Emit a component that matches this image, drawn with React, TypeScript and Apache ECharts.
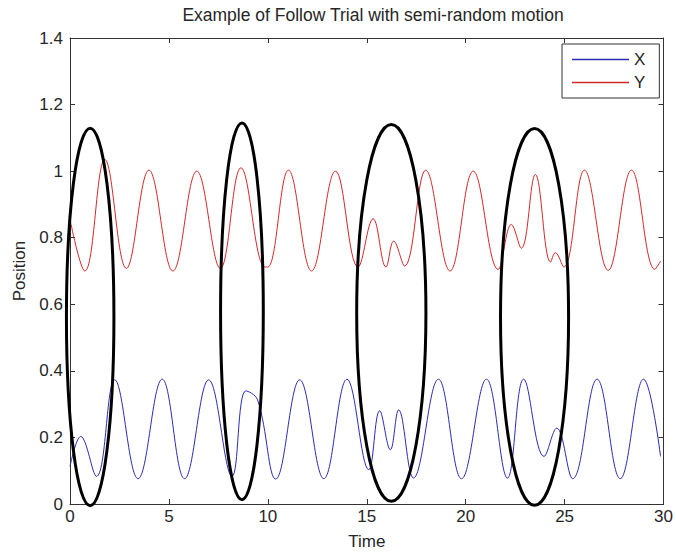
import React, { useEffect, useRef } from "react";
import * as echarts from "echarts";

const titleText = "Example of Follow Trial with semi-random motion";
const xTicks = { min: 0, max: 30, interval: 5 };
const yTicks = { min: 0, max: 1.4, interval: 0.2 };

// X position over time (blue)
const seriesX: [number, number][] = [
  [0, 0.113], [0.54, 0.203], [1.34, 0.083], [2.26, 0.373], [3.44, 0.076],
  [4.66, 0.375], [5.79, 0.076], [7.01, 0.373], [8.19, 0.083], [8.89, 0.34],
  [9.48, 0.313], [10.4, 0.075], [11.61, 0.373], [12.83, 0.076], [14.0, 0.375],
  [15.1, 0.103], [15.65, 0.28], [16.19, 0.163], [16.61, 0.283], [17.36, 0.078],
  [18.62, 0.375], [19.79, 0.076], [21.05, 0.375], [22.11, 0.078], [22.93, 0.375],
  [23.96, 0.143], [24.6, 0.228], [25.41, 0.076], [26.64, 0.375], [27.81, 0.076],
  [28.99, 0.375], [29.85, 0.143],
];

// Y position over time (red)
const seriesY: [number, number][] = [
  [0, 0.855], [0.75, 0.7], [1.76, 1.035], [2.85, 0.708], [3.99, 1.003],
  [5.2, 0.7], [6.41, 1.0], [7.6, 0.708], [8.64, 1.01], [9.85, 0.712],
  [10.0, 0.712], [11.04, 1.003], [12.21, 0.7], [13.42, 1.0], [14.56, 0.712],
  [15.32, 0.857], [15.97, 0.712], [16.36, 0.79], [16.91, 0.715], [17.98, 1.003],
  [19.21, 0.7], [20.38, 1.0], [21.64, 0.705], [22.31, 0.84], [22.81, 0.768],
  [23.52, 0.99], [24.29, 0.727], [24.53, 0.755], [24.96, 0.712], [26.0, 1.003],
  [27.2, 0.702], [28.38, 1.003], [29.56, 0.705], [29.85, 0.73],
];

// Annotation ellipses: [centerTime, centerPos, radiusTime, radiusPos]
const ellipses: [number, number, number, number][] = [
  [1.02, 0.562, 1.2, 0.567],
  [8.69, 0.579, 1.08, 0.566],
  [16.24, 0.574, 1.75, 0.566],
  [23.48, 0.562, 1.72, 0.566],
];

const FONT = "'Liberation Sans', Arial, sans-serif";
const TEXT = "#262626";
const AXIS = "#333333";

export default function App() {
  const ref = useRef<HTMLDivElement>(null);
  useEffect(() => {
    if (!ref.current) return;
    const chart = echarts.init(ref.current, null, { renderer: "svg" });
    const axisCommon = {
      axisLine: { show: true, onZero: false, lineStyle: { color: AXIS, width: 1 } },
      axisTick: { show: true, inside: true, length: 5, lineStyle: { color: AXIS } },
      splitLine: { show: false },
    };
    chart.setOption({
      animation: false,
      backgroundColor: "#ffffff",
      textStyle: { fontFamily: FONT },
      title: {
        text: titleText,
        left: 368,
        textAlign: "center",
        top: 1,
        textStyle: { fontSize: 17.5, fontWeight: "normal", color: TEXT, fontFamily: FONT },
      },
      grid: { left: 70, top: 38, width: 596, height: 466 },
      legend: {
        data: ["X", "Y"],
        orient: "vertical",
        left: 562,
        top: 44,
        padding: [7, 14, 7, 10],
        itemGap: 6,
        itemWidth: 57,
        itemHeight: 1.5,
        icon: "rect",
        borderColor: AXIS,
        borderWidth: 1,
        backgroundColor: "#ffffff",
        textStyle: { fontSize: 17, color: TEXT, fontFamily: FONT, lineHeight: 17 },
      },
      xAxis: [
        {
          type: "value",
          ...xTicks,
          position: "bottom",
          name: "Time",
          nameLocation: "middle",
          nameGap: 29,
          nameTextStyle: { fontSize: 17, color: TEXT, fontFamily: FONT },
          axisLabel: { fontSize: 17, color: TEXT, margin: 4, fontFamily: FONT },
          ...axisCommon,
        },
        {
          type: "value",
          ...xTicks,
          position: "top",
          axisLabel: { show: false },
          ...axisCommon,
        },
      ],
      yAxis: [
        {
          type: "value",
          ...yTicks,
          position: "left",
          name: "Position",
          nameLocation: "middle",
          nameGap: 42,
          nameTextStyle: { fontSize: 17, color: TEXT, fontFamily: FONT },
          axisLabel: {
            fontSize: 17,
            color: TEXT,
            margin: 7,
            fontFamily: FONT,
            formatter: (v: number) => (Math.abs(v - Math.round(v)) < 1e-9 ? String(Math.round(v)) : String(Math.round(v * 10) / 10)),
          },
          ...axisCommon,
        },
        {
          type: "value",
          ...yTicks,
          position: "right",
          axisLabel: { show: false },
          ...axisCommon,
        },
      ],
      series: [
        {
          name: "X",
          type: "line",
          data: seriesX,
          showSymbol: false,
          symbol: "none",
          smooth: 0.4,
          color: "#2a2ab4",
          lineStyle: { width: 1, color: "#2a2ab4" },
          z: 3,
        },
        {
          name: "Y",
          type: "line",
          data: seriesY,
          showSymbol: false,
          symbol: "none",
          smooth: 0.4,
          color: "#d02828",
          lineStyle: { width: 1, color: "#d02828" },
          z: 3,
        },
        {
          name: "annotations",
          type: "custom",
          data: ellipses,
          encode: { x: 0, y: 1 },
          clip: false,
          z: 5,
          renderItem: (params: any, api: any) => {
            const c = api.coord([api.value(0), api.value(1)]);
            const s = api.size([api.value(2), api.value(3)]);
            return {
              type: "ellipse",
              shape: { cx: c[0], cy: c[1], rx: s[0], ry: s[1] },
              style: { fill: "none", stroke: "#000000", lineWidth: 3 },
            };
          },
        },
      ],
    });
    return () => chart.dispose();
  }, []);
  return (
    <div
      ref={ref}
      style={{ position: "absolute", left: 0, top: 0, width: 676, height: 556, background: "#fff" }}
    />
  );
}
